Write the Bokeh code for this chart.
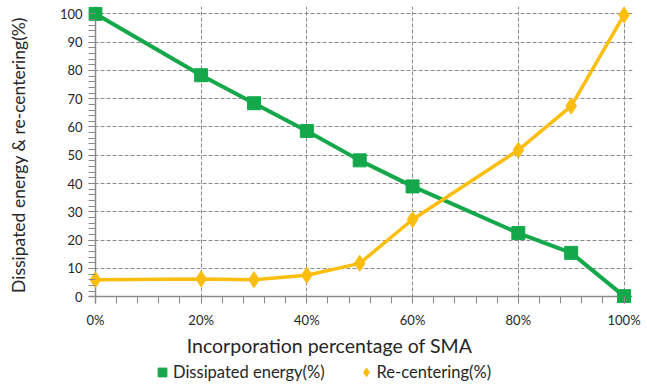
import numpy as np
from bokeh.plotting import figure
from bokeh.layouts import column
from bokeh.models import FixedTicker, Legend, LegendItem, CustomJSTickFormatter, Grid, Label
from bokeh.embed import file_html
from bokeh.resources import INLINE

sma_pct = [0, 20, 30, 40, 50, 60, 80, 90, 100]
dissipated = [100, 78.3, 68.4, 58.6, 48.2, 39.0, 22.5, 15.5, 0.2]
recentering = [6.0, 6.3, 6.0, 7.6, 11.8, 27.3, 51.8, 67.4, 99.6]
x_ticks = [0, 20, 40, 60, 80, 100]
y_ticks = [0, 10, 20, 30, 40, 50, 60, 70, 80, 90, 100]
series_names = ["Dissipated energy(%)", "Re-centering(%)"]
x_title = "Incorporation percentage of SMA"
y_title = "Dissipated energy & re-centering(%)"

GREEN = "#14a84b"
GOLD = "#fbbd0e"
GREY = "#8a8a8a"
INK = "#262626"
FONT = "Lato"

p = figure(width=647, height=330, output_backend="svg", toolbar_location=None,
           x_range=(-1.3, 101.6), y_range=(-2.4, 102.6),
           min_border_left=88, min_border_right=15, min_border_top=6, min_border_bottom=25)
p.outline_line_color = None
p.background_fill_color = "white"

# grid: dashed lines, solid axis lines at 0
p.xgrid.visible = False
p.ygrid.visible = False
p.add_layout(Grid(dimension=0, ticker=FixedTicker(ticks=x_ticks[1:]), bounds=(0, 100),
                  grid_line_color=GREY, grid_line_dash="4 2", grid_line_width=1))
p.add_layout(Grid(dimension=1, ticker=FixedTicker(ticks=y_ticks[1:]), bounds=(0, 100),
                  grid_line_color=GREY, grid_line_dash="4 2", grid_line_width=1))
p.add_layout(Grid(dimension=0, ticker=FixedTicker(ticks=[0]), bounds=(0, 100),
                  grid_line_color=GREY, grid_line_width=1.5))
p.add_layout(Grid(dimension=1, ticker=FixedTicker(ticks=[0]), bounds=(0, 100),
                  grid_line_color=GREY, grid_line_width=1.5))

p.line(sma_pct, dissipated, line_color=GREEN, line_width=4)
p.line(sma_pct, recentering, line_color=GOLD, line_width=3.5)
p.scatter(sma_pct, dissipated, marker="square", size=13, fill_color=GREEN, line_color=GREEN)
p.scatter(sma_pct, recentering, marker="diamond", size=16, fill_color=GOLD, line_color=GOLD)

p.xaxis.ticker = FixedTicker(ticks=x_ticks, minor_ticks=list(range(0, 101, 4)))
p.yaxis.ticker = FixedTicker(ticks=y_ticks, minor_ticks=list(range(0, 101, 2)))
p.xaxis.formatter = CustomJSTickFormatter(code="return tick + '%';")

for ax in (p.xaxis[0], p.yaxis[0]):
    ax.axis_line_color = None
    ax.major_tick_line_color = GREY
    ax.minor_tick_line_color = GREY
    ax.major_tick_out = 0
    ax.minor_tick_out = 0
    ax.major_tick_in = 7
    ax.minor_tick_in = 7
    ax.major_label_text_font = FONT
    ax.major_label_text_font_size = "13px"
    ax.major_label_text_color = INK
    ax.axis_label_text_font = FONT
    ax.axis_label_text_font_style = "normal"
    ax.axis_label_text_color = INK

p.xaxis.major_label_standoff = 8
p.yaxis.major_label_standoff = 6
p.yaxis.axis_label = y_title
p.yaxis.axis_label_text_font_size = "17.5px"
p.yaxis.axis_label_standoff = 28

# strip below the chart: x-axis title and legend
lg = figure(width=647, height=54, output_backend="svg", toolbar_location=None,
            x_axis_type=None, y_axis_type=None, x_range=(0, 1), y_range=(0, 1), min_border=0)
lg.outline_line_color = None
lg.grid.visible = False
lg.add_layout(Label(x=241, y=39, x_units="screen", y_units="screen", text=x_title,
                    text_align="center", text_baseline="middle", text_font=FONT,
                    text_font_size="19.5px", text_color=INK))
nan = np.array([np.nan])
lg_g = lg.scatter(x=nan, y=nan, marker="square", size=13, fill_color=GREEN, line_color=GREEN)
lg_y = lg.scatter(x=nan, y=nan, marker="diamond", size=16, fill_color=GOLD, line_color=GOLD)
legend = Legend(items=[LegendItem(label=series_names[0], renderers=[lg_g]),
                       LegendItem(label=series_names[1], renderers=[lg_y])],
                orientation="horizontal", location=(63, 1),
                padding=0, margin=0, spacing=30, label_standoff=0,
                glyph_width=22, glyph_height=22, label_height=20,
                border_line_alpha=0, background_fill_alpha=0,
                label_text_font=FONT, label_text_font_size="16.5px", label_text_color=INK)
lg.add_layout(legend, "center")

layout = column(p, lg, spacing=0)
open("out.html", "w").write(file_html(layout, INLINE))
